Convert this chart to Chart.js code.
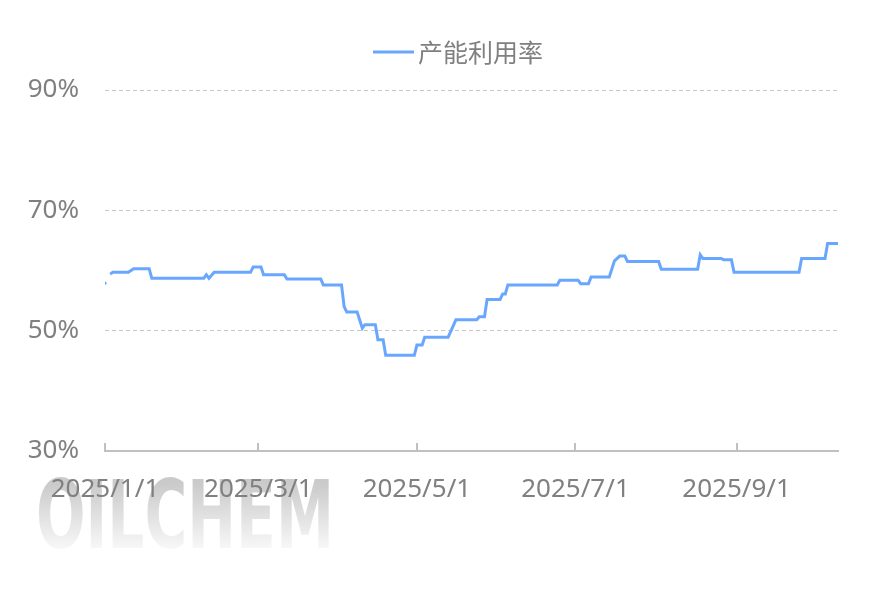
<!DOCTYPE html>
<html>
<head>
<meta charset="utf-8">
<script src="https://cdn.jsdelivr.net/npm/chart.js@4.4.1/dist/chart.umd.min.js"></script>
<style>
  body { margin: 0; background: #fff; }
  .wrap { position: relative; width: 886px; height: 590px; }
  .mark {
    position: absolute; left: 36px; top: 469px; z-index: 0;
    font-family: "DejaVu Sans Condensed", "Liberation Sans Narrow", sans-serif;
    font-weight: 600; font-size: 94px; line-height: 1; white-space: nowrap;
    background: linear-gradient(to bottom, #cacaca 15%, #fbfbfb 90%);
    -webkit-background-clip: text; background-clip: text; color: transparent;
    transform-origin: 0 0;
  }
  canvas { position: absolute; left: 0; top: 0; z-index: 1; }
</style>
</head>
<body>
<div class="wrap">
  <div class="mark" id="mark">OILCHEM</div>
  <canvas id="myChart" width="886" height="590"></canvas>
</div>
<script>
// days counted from 2025/1/1, value where the level changes
const days = [0, 1, 2, 3, 9, 11, 17, 18, 38, 39, 40, 42, 56, 57, 60, 61, 69, 70, 83, 84,
  91, 92, 93, 97, 99, 100, 104, 105, 107, 108, 119, 120, 122, 123, 132, 135, 143, 144, 146, 147,
  152, 153, 154, 155, 174, 175, 182, 183, 186, 187, 194, 196, 198, 200, 201, 213, 214, 228, 229, 230,
  237, 238, 241, 242, 267, 268, 277, 278, 282]
const rates = [57.9, null, 59.4, 59.7, 59.7, 60.3, 60.3, 58.7, 58.7, 59.3, 58.7, 59.7, 59.7, 60.6, 60.6, 59.3, 59.3, 58.6, 58.6, 57.6,
  57.6, 54.0, 53.1, 53.1, 50.4, 51.0, 51.0, 48.5, 48.5, 45.9, 45.9, 47.6, 47.6, 48.9, 48.9, 51.8, 51.8, 52.3, 52.3, 55.2,
  55.2, 56.1, 56.1, 57.6, 57.6, 58.4, 58.4, 57.8, 57.8, 58.9, 58.9, 61.6, 62.4, 62.4, 61.5, 61.5, 60.2, 60.2, 62.6, 62.0,
  62.0, 61.8, 61.8, 59.7, 59.7, 62.0, 62.0, 64.5, 64.5]
const tickDays = [0, 59, 120, 181, 243]
const tickLabels = ['2025/1/1', '2025/3/1', '2025/5/1', '2025/7/1', '2025/9/1']
const yTicks = [30, 50, 70, 90]
const seriesName = '产能利用率'

const lineColor = '#69a7fe'
const textColor = '#808080'
const axisColor = '#c0c0c0'

// squeeze the watermark into its box
const mark = document.getElementById('mark')
mark.style.transform = 'scaleX(' + (298 / mark.offsetWidth) + ')'

const legendLine = {
  id: 'legendLine',
  afterDraw(chart) {
    const ctx = chart.ctx
    const ds = chart.data.datasets[0]
    ctx.save()
    ctx.strokeStyle = ds.borderColor
    ctx.lineWidth = 3
    ctx.beginPath()
    ctx.moveTo(373, 52)
    ctx.lineTo(414, 52)
    ctx.stroke()
    ctx.fillStyle = textColor
    ctx.font = '25px "Noto Sans CJK SC"'
    ctx.textBaseline = 'middle'
    ctx.fillText(ds.label, 418, 52)
    ctx.restore()
  }
}

const innerTicks = {
  id: 'innerTicks',
  afterDraw(chart) {
    const ctx = chart.ctx
    const x = chart.scales.x
    const bottom = chart.chartArea.bottom
    ctx.save()
    ctx.strokeStyle = axisColor
    ctx.lineWidth = 2
    x.ticks.forEach(t => {
      const px = Math.round(x.getPixelForValue(t.value))
      ctx.beginPath()
      ctx.moveTo(px, bottom - 8)
      ctx.lineTo(px, bottom)
      ctx.stroke()
    })
    ctx.restore()
  }
}

new Chart(document.getElementById('myChart').getContext('2d'), {
  type: 'line',
  data: {
    datasets: [{
      label: seriesName,
      data: days.map((d, i) => ({ x: d, y: rates[i] })),
      borderColor: lineColor,
      backgroundColor: lineColor,
      borderWidth: 3,
      tension: 0,
      spanGaps: false,
      pointRadius: ctx => ctx.dataIndex === 0 ? 1.6 : 0,
      pointBorderWidth: 0,
      pointBackgroundColor: lineColor
    }]
  },
  options: {
    responsive: false,
    animation: false,
    layout: { padding: { left: 0, right: 48, top: 90, bottom: 0 } },
    plugins: {
      legend: { display: false },
      tooltip: { enabled: false }
    },
    scales: {
      x: {
        type: 'linear',
        min: 0,
        max: 282,
        afterBuildTicks: scale => { scale.ticks = tickDays.map(v => ({ value: v })) },
        afterFit: scale => { scale.height = 139 },
        grid: { display: false },
        border: { display: true, color: axisColor, width: 2 },
        ticks: {
          autoSkip: false,
          maxRotation: 0,
          padding: 15,
          color: textColor,
          font: { family: 'Noto Sans', size: 26 },
          callback: v => tickLabels[tickDays.indexOf(v)]
        }
      },
      y: {
        min: 30,
        max: 90,
        afterBuildTicks: scale => { scale.ticks = yTicks.map(v => ({ value: v })) },
        afterFit: scale => { scale.width = 105 },
        border: { display: false, dash: [4, 3] },
        grid: {
          drawTicks: false,
          color: c => c.tick && c.tick.value === 30 ? 'rgba(0,0,0,0)' : '#c8c8c8',
          lineWidth: 1
        },
        ticks: {
          padding: 26,
          color: textColor,
          font: { family: 'Noto Sans', size: 26 },
          callback: v => v + '%'
        }
      }
    }
  },
  plugins: [legendLine, innerTicks]
})
</script>
</body>
</html>
